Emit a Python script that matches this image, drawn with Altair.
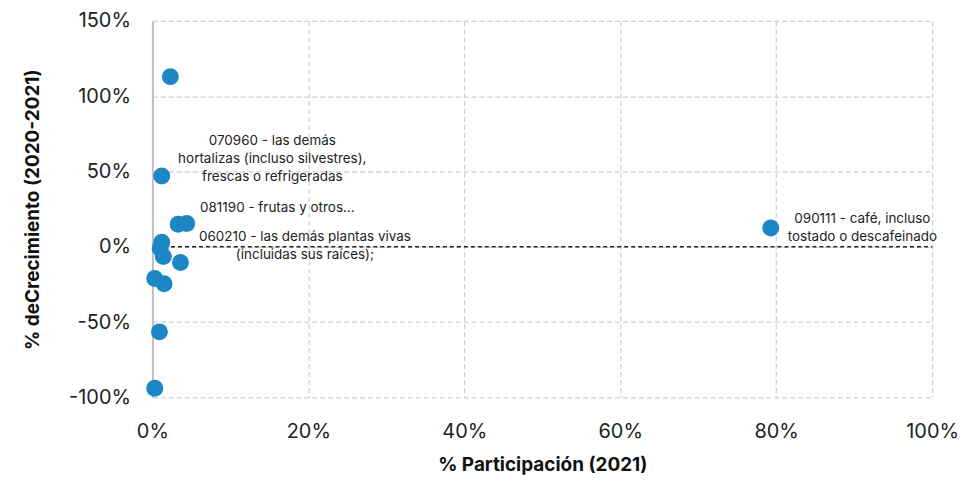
import altair as alt
import pandas as pd

participacion = [0.023, 0.012, 0.033, 0.044, 0.012, 0.010, 0.014, 0.036, 0.003, 0.015, 0.009, 0.003, 0.793]
crecimiento = [1.13, 0.47, 0.15, 0.155, 0.03, -0.01, -0.065, -0.105, -0.21, -0.245, -0.565, -0.94, 0.125]
codigos = ["", "070960", "", "081190", "", "", "", "060210", "", "", "", "", "090111"]
etiquetas = [
    "",
    "070960 - las demás\nhortalizas (incluso silvestres),\nfrescas o refrigeradas",
    "",
    "081190 - frutas y otros...",
    "", "", "",
    "060210 - las demás plantas vivas\n(incluidas sus raíces);",
    "", "", "", "",
    "090111 - café, incluso\ntostado o descafeinado",
]

df = pd.DataFrame({"x": participacion, "y": crecimiento, "cod": codigos, "lab": etiquetas})

FONT = "Inter"
BLUE = "#1B87C5"
PCT = "replace(format(datum.value, '.0%'), '\u2212', '-')"

xs = alt.Scale(domain=[0, 1], nice=False, zero=False)
ys = alt.Scale(domain=[-1, 1.5], nice=False, zero=False)

base = alt.Chart(df)

points = base.mark_circle(size=290, opacity=1, color=BLUE).encode(
    x=alt.X("x:Q", scale=xs, title="% Participación (2021)",
            axis=alt.Axis(labelExpr=PCT, values=[0, 0.2, 0.4, 0.6, 0.8, 1.0])),
    y=alt.Y("y:Q", scale=ys, title="% deCrecimiento (2020-2021)",
            axis=alt.Axis(labelExpr=PCT, values=[-1, -0.5, 0, 0.5, 1, 1.5])),
)

zero = alt.Chart(pd.DataFrame({"y": [0], "x0": [0.015], "x1": [1.0]})).mark_rule(
    color="#222222", strokeDash=[4, 3], strokeWidth=1.5
).encode(y=alt.Y("y:Q", scale=ys), x=alt.X("x0:Q", scale=xs), x2="x1:Q")

offsets = {"070960": (111, -35), "081190": (91, -15), "060210": (125, -26), "090111": (92, -9)}
labels = []
for cod, (dx, dy) in offsets.items():
    labels.append(
        base.transform_filter(alt.datum.cod == cod).mark_text(
            font=FONT, fontSize=13.5, color="#222222", lineBreak="\n",
            align="center", baseline="middle", dx=dx, dy=dy, lineHeight=18,
        ).encode(x=alt.X("x:Q", scale=xs), y=alt.Y("y:Q", scale=ys), text="lab:N")
    )

chart = alt.layer(zero, points, *labels).properties(
    width=783, height=378,
    autosize=alt.AutoSizeParams(type="none"),
    padding={"left": 145, "top": 12, "right": 36, "bottom": 80},
).configure_view(stroke=None).configure_axis(
    labelFont=FONT, titleFont=FONT, labelFontSize=20, labelColor="#222222",
    titleFontSize=19, titleFontWeight="bold", titleColor="#111111",
    grid=True, gridColor="#d0d0d0", gridDash=[5, 3], gridWidth=1.2,
    ticks=False, domain=False, labelFlush=False, labelOverlap=False,
).configure_axisY(
    domain=True, domainColor="#bfbfbf", domainWidth=2, labelPadding=22, titlePadding=26,
).configure_axisX(
    labelPadding=24, titlePadding=14,
)

chart.save("out.html", embed_options={"renderer": "svg", "actions": False})
